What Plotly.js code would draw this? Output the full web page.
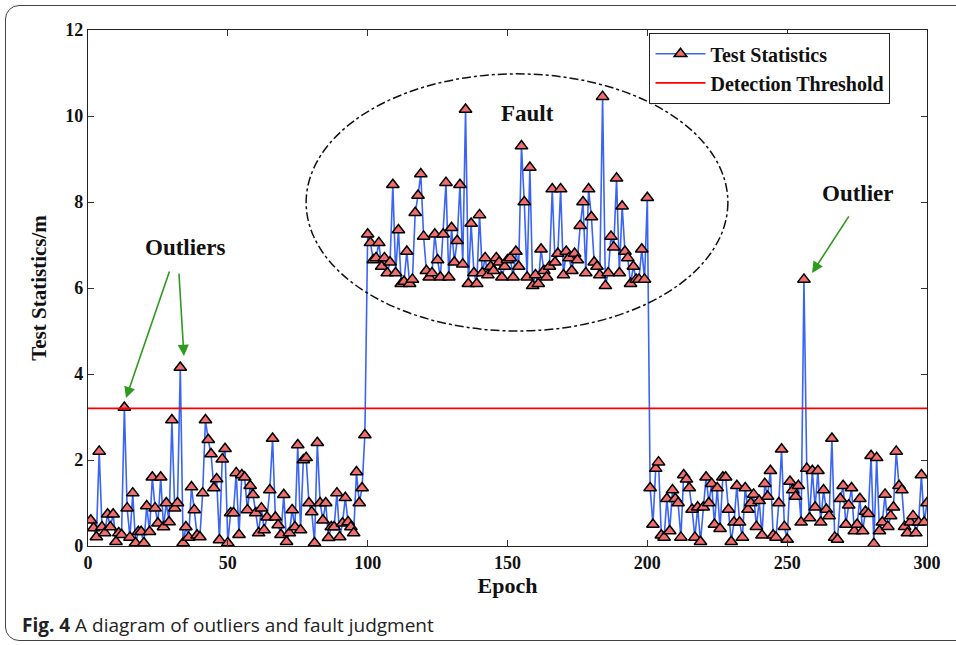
<!DOCTYPE html>
<html>
<head>
<meta charset="utf-8">
<script src="https://cdn.plot.ly/plotly-3.0.1.min.js"></script>
<style>
  html, body { margin: 0; padding: 0; background: #ffffff; }
  #frame { position: absolute; left: 5px; top: 5px; width: 1000px; height: 634px;
           border: 1.5px solid #444; border-radius: 14px; pointer-events: none; }
  #chart { position: absolute; left: 0; top: 0; width: 956px; height: 645px; }
</style>
</head>
<body>
<div id="chart"></div>
<div id="frame"></div>
<script>
// Test statistics, epochs 1-99 (before the fault)
const preFault = [
  0.6, 0.42, 0.21, 2.2, 0.44, 0.3, 0.74, 0.44, 0.74, 0.1,
  0.3, 0.26, 3.22, 0.88, 0.2, 1.23, 0.07, 0.33, 0.33, 0.07,
  0.93, 0.33, 1.6, 0.88, 0.53, 1.6, 0.44, 1.0, 0.56, 2.93,
  0.88, 1.0, 4.15, 0.07, 0.44, 0.2, 1.37, 0.84, 0.25, 0.21,
  1.23, 2.93, 2.47, 2.14, 1.35, 1.56, 0.14, 2.02, 2.26, 0.07,
  0.77, 0.77, 1.7, 0.26, 1.65, 1.6, 0.84, 1.4, 1.19, 0.77,
  0.3, 0.88, 0.37, 0.67, 1.3, 2.5, 0.67, 0.49, 0.26, 1.19,
  0.1, 0.3, 0.84, 0.44, 2.35, 0.37, 2.0, 2.05, 1.0, 0.79,
  0.07, 2.4, 1.0, 0.6, 1.0, 0.19, 0.44, 0.44, 1.23, 0.21,
  0.53, 1.12, 0.56, 0.44, 0.3, 1.72, 1.0, 1.35, 2.58
];
// Test statistics, epochs 100-200 (fault)
const faultPeriod = [
  7.25, 7.05, 6.65, 6.7, 7.05, 6.5, 6.7, 6.35, 6.6, 8.4,
  6.35, 7.35, 6.1, 6.15, 6.85, 6.1, 6.2, 7.75, 8.15, 8.65,
  7.2, 6.4, 6.25, 6.35, 7.25, 6.65, 6.25, 7.25, 8.45, 6.25,
  7.4, 6.6, 7.1, 8.4, 6.55, 10.15, 6.1, 7.5, 6.35, 6.1,
  7.7, 6.35, 6.7, 6.3, 6.5, 6.4, 6.7, 6.6, 6.25, 6.5,
  6.65, 6.7, 6.25, 6.85, 6.5, 9.3, 8.0, 6.25, 8.8, 6.05,
  6.3, 6.1, 6.9, 6.4, 6.25, 6.5, 8.3, 6.6, 6.8, 8.3,
  6.3, 6.85, 6.7, 6.4, 6.8, 6.65, 7.45, 8.0, 6.35, 8.3,
  7.65, 6.6, 6.5, 6.3, 10.45, 6.05, 6.35, 7.2, 6.95, 8.55,
  6.35, 7.9, 6.85, 6.7, 6.1, 6.5, 6.2, 6.2, 6.9, 6.2,
  8.1
];
// Test statistics, epochs 201-300 (after the fault)
const postFault = [
  1.35, 0.5, 1.8, 1.95, 0.25, 0.2, 1.1, 0.35, 1.3, 1.1,
  1.0, 0.2, 1.65, 1.55, 1.35, 0.85, 0.2, 0.9, 0.1, 0.9,
  1.6, 1.0, 1.45, 0.5, 1.35, 0.4, 1.6, 1.6, 0.85, 0.1,
  0.55, 1.4, 0.55, 0.2, 1.35, 0.85, 1.0, 1.2, 0.45, 1.05,
  0.25, 1.45, 1.15, 1.75, 0.25, 0.2, 1.0, 2.25, 0.45, 0.15,
  1.5, 1.3, 1.15, 1.4, 0.55, 6.2, 1.8, 0.65, 1.75, 0.9,
  1.75, 0.55, 1.3, 0.85, 0.7, 2.5, 0.2, 0.15, 1.1, 1.4,
  0.5, 0.95, 1.35, 0.35, 0.5, 1.1, 0.35, 0.8, 0.75, 2.1,
  0.05, 2.05, 0.35, 0.55, 1.2, 0.45, 0.7, 0.9, 2.2, 1.4,
  1.3, 0.45, 0.3, 0.55, 0.7, 0.3, 0.55, 1.65, 0.55, 1.0
];
const thresholdX = [0, 300];
const thresholdY = [3.2, 3.2];
const xTicks = [0, 50, 100, 150, 200, 250, 300];
const yTicks = [0, 2, 4, 6, 8, 10, 12];

const testStat = preFault.concat(faultPeriod, postFault);
const epochs = testStat.map((v, i) => i + 1);

const serif = 'Liberation Serif, Times New Roman, serif';
const green = '#2e9a1e';

const traces = [
  {
    x: epochs, y: testStat, type: 'scatter', mode: 'lines+markers',
    name: 'Test Statistics',
    line: { color: '#3a64f5', width: 1.6 },
    marker: { symbol: 'triangle-up', size: 11, color: '#f26d6d',
              line: { color: '#000000', width: 1.5 } }
  },
  {
    x: thresholdX, y: thresholdY, type: 'scatter', mode: 'lines',
    name: 'Detection Threshold',
    line: { color: '#ff0000', width: 1.8 }
  }
];

const layout = {
  width: 956, height: 645,
  margin: { l: 88, r: 29, t: 30, b: 99 },
  paper_bgcolor: 'rgba(0,0,0,0)', plot_bgcolor: '#ffffff',
  showlegend: true,
  font: { family: serif, color: '#111111', size: 18, weight: 'bold' },
  xaxis: {
    range: [0, 300], tickvals: xTicks, ticks: 'inside', ticklen: 6,
    tickcolor: '#333', mirror: 'ticks', showline: true, linecolor: '#222', linewidth: 1.2,
    showgrid: false, zeroline: false,
    tickfont: { family: serif, size: 18, weight: 'bold', color: '#111' },
    title: { text: 'Epoch', font: { family: serif, size: 22, weight: 'bold', color: '#111' }, standoff: 2 }
  },
  yaxis: {
    range: [0, 12], tickvals: yTicks, ticks: 'inside', ticklen: 6,
    tickcolor: '#333', mirror: 'ticks', showline: true, linecolor: '#222', linewidth: 1.2,
    showgrid: false, zeroline: false,
    tickfont: { family: serif, size: 18, weight: 'bold', color: '#111' },
    title: { text: 'Test Statistics/m', font: { family: serif, size: 21, weight: 'bold', color: '#111' }, standoff: 12 }
  },
  legend: {
    x: 0.669, y: 0.994, xanchor: 'left', yanchor: 'top',
    bgcolor: '#ffffff', bordercolor: '#222', borderwidth: 1.2,
    font: { family: serif, size: 20, weight: 'bold', color: '#111' },
    itemwidth: 50, tracegroupgap: 0
  },
  shapes: [
    { type: 'circle', xref: 'x', yref: 'y', x0: 78, x1: 228.8, y0: 5.0, y1: 10.98,
      line: { color: '#111', width: 1.5, dash: 'dashdot' } }
  ],
  annotations: [
    { x: 34.7, y: 6.95, xref: 'x', yref: 'y', text: 'Outliers', showarrow: false,
      font: { family: serif, size: 23, weight: 'bold', color: '#111' } },
    { x: 157.3, y: 10.05, xref: 'x', yref: 'y', text: 'Fault', showarrow: false,
      font: { family: serif, size: 23, weight: 'bold', color: '#111' } },
    { x: 275.3, y: 8.2, xref: 'x', yref: 'y', text: 'Outlier', showarrow: false,
      font: { family: serif, size: 23, weight: 'bold', color: '#111' } },
    { x: 13.6, y: 3.44, ax: 29.3, ay: 6.42, xref: 'x', yref: 'y', axref: 'x', ayref: 'y',
      text: '', showarrow: true, arrowhead: 2, arrowsize: 1.4, arrowwidth: 1.6, arrowcolor: green },
    { x: 34.3, y: 4.42, ax: 32.5, ay: 6.37, xref: 'x', yref: 'y', axref: 'x', ayref: 'y',
      text: '', showarrow: true, arrowhead: 2, arrowsize: 1.4, arrowwidth: 1.6, arrowcolor: green },
    { x: 258.9, y: 6.35, ax: 272.4, ay: 7.7, xref: 'x', yref: 'y', axref: 'x', ayref: 'y',
      text: '', showarrow: true, arrowhead: 2, arrowsize: 1.4, arrowwidth: 1.6, arrowcolor: green },
    { x: -0.081, y: -0.153, xref: 'paper', yref: 'paper', xanchor: 'left', yanchor: 'middle',
      showarrow: false,
      text: '<b>Fig. 4</b> A diagram of outliers and fault judgment',
      font: { family: 'Open Sans, Noto Sans, sans-serif', size: 19, color: '#222', weight: 'normal' } }
  ]
};

Plotly.newPlot('chart', traces, layout, { displayModeBar: false, staticPlot: true });
</script>
</body>
</html>
